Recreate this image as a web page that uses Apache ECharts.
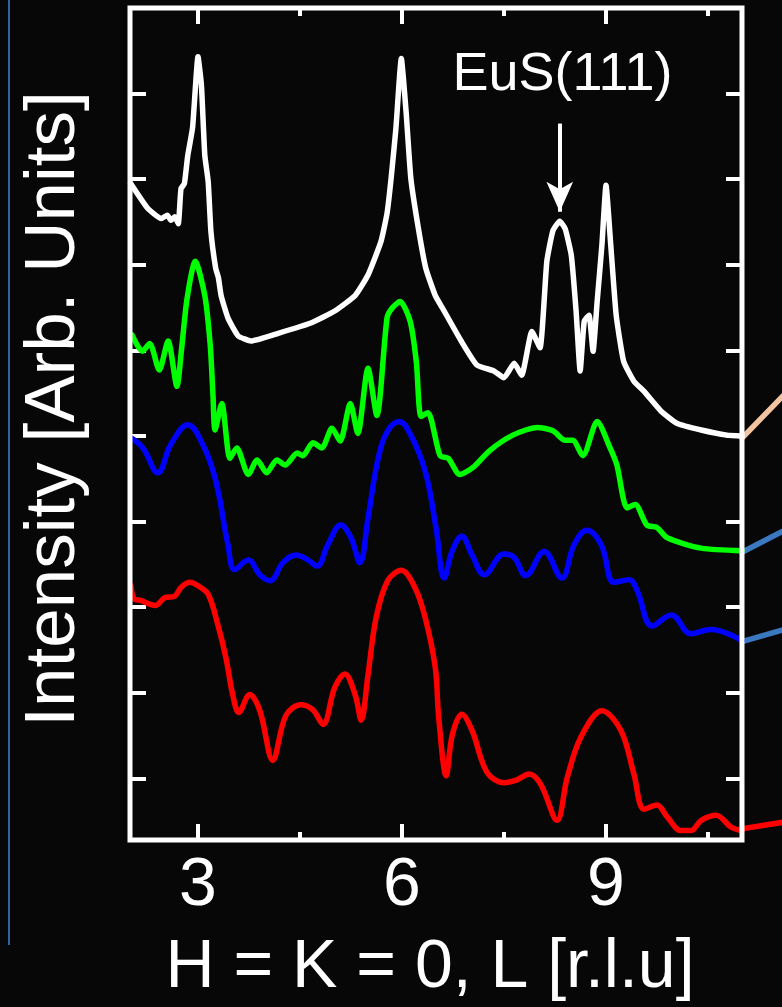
<!DOCTYPE html>
<html>
<head>
<meta charset="utf-8">
<script src="https://cdn.jsdelivr.net/npm/echarts@6/dist/echarts.min.js"></script>
<style>
  html, body { margin: 0; padding: 0; background: #070707; }
  #chart { width: 782px; height: 1007px; }
</style>
</head>
<body>
<div id="chart"></div>
<script>
// L values (r.l.u) paired with intensity (arb. units, offset traces)
const white = [[2.01,7.95],[2.26,7.66],[2.46,7.54],[2.55,7.58],[2.60,7.52],[2.66,7.56],[2.71,7.48],[2.75,7.89],[2.80,7.95],[2.85,8.28],[2.92,8.6],[3.0,9.43],[3.05,9.1],[3.10,8.28],[3.15,7.97],[3.19,7.39],[3.26,6.96],[3.30,6.85],[3.34,6.64],[3.44,6.38],[3.59,6.17],[3.78,6.11],[4.18,6.20],[4.66,6.32],[5.01,6.46],[5.31,6.64],[5.50,6.88],[5.69,7.27],[5.78,7.6],[5.84,8.01],[5.91,8.59],[5.99,9.41],[6.06,8.79],[6.13,8.01],[6.24,7.43],[6.35,6.96],[6.49,6.64],[6.62,6.46],[6.87,6.11],[7.10,5.83],[7.35,5.76],[7.50,5.68],[7.65,5.85],[7.76,5.71],[7.91,6.22],[8.03,6.03],[8.13,7.04],[8.22,7.4],[8.32,7.51],[8.40,7.42],[8.49,7.11],[8.56,6.46],[8.62,5.76],[8.68,6.34],[8.75,6.41],[8.81,5.99],[8.87,6.57],[8.94,7.23],[9.0,7.93],[9.07,7.23],[9.15,6.41],[9.26,5.87],[9.41,5.64],[9.56,5.52],[9.81,5.29],[10.04,5.15],[10.40,5.07],[10.78,5.01],[11.0,5.0]];
const green = [[2.03,6.18],[2.18,5.99],[2.29,6.08],[2.43,5.77],[2.56,6.11],[2.69,5.58],[2.76,6.03],[2.84,6.61],[2.96,7.04],[3.10,6.64],[3.18,6.06],[3.22,5.48],[3.25,5.07],[3.35,5.38],[3.47,4.74],[3.57,4.86],[3.74,4.55],[3.87,4.72],[4.01,4.57],[4.16,4.72],[4.28,4.66],[4.46,4.80],[4.54,4.77],[4.69,4.92],[4.82,4.86],[4.97,5.09],[5.09,4.94],[5.24,5.38],[5.35,5.03],[5.50,5.79],[5.63,5.24],[5.78,6.38],[5.85,6.49],[5.97,6.57],[6.12,6.34],[6.21,5.87],[6.28,5.23],[6.38,5.27],[6.56,4.77],[6.68,4.74],[6.85,4.55],[7.04,4.63],[7.29,4.83],[7.63,5.01],[7.99,5.10],[8.22,5.06],[8.40,4.95],[8.51,4.95],[8.66,4.77],[8.87,5.17],[9.06,4.86],[9.16,4.66],[9.31,4.16],[9.43,4.20],[9.60,3.96],[9.75,3.93],[9.90,3.81],[10.40,3.69],[11.0,3.66]];
const blue = [[2.01,4.98],[2.19,4.86],[2.41,4.57],[2.60,4.90],[2.85,5.13],[3.07,4.90],[3.26,4.48],[3.44,3.73],[3.54,3.44],[3.74,3.55],[3.91,3.38],[4.06,3.31],[4.25,3.52],[4.44,3.61],[4.62,3.55],[4.75,3.48],[4.91,3.73],[5.10,3.96],[5.25,3.81],[5.38,3.52],[5.50,4.04],[5.65,4.74],[5.79,5.06],[5.96,5.17],[6.13,5.01],[6.34,4.59],[6.50,3.93],[6.62,3.34],[6.74,3.66],[6.88,3.83],[7.03,3.61],[7.21,3.38],[7.50,3.62],[7.65,3.58],[7.82,3.37],[8.09,3.65],[8.35,3.34],[8.53,3.73],[8.72,3.90],[8.93,3.73],[9.12,3.29],[9.34,3.32],[9.46,3.19],[9.68,2.78],[9.96,2.91],[10.25,2.69],[10.54,2.74],[11.0,2.61]];
const red = [[2.01,3.26],[2.07,3.09],[2.16,3.08],[2.24,3.05],[2.37,3.02],[2.51,3.11],[2.66,3.13],[2.75,3.23],[2.88,3.29],[3.00,3.25],[3.15,3.15],[3.29,2.80],[3.41,2.41],[3.51,1.98],[3.60,1.77],[3.76,1.98],[3.91,1.79],[4.10,1.21],[4.29,1.73],[4.51,1.86],[4.69,1.80],[4.84,1.63],[5.01,2.06],[5.16,2.22],[5.31,1.98],[5.40,1.68],[5.50,2.21],[5.62,2.88],[5.79,3.31],[5.99,3.43],[6.19,3.23],[6.34,2.88],[6.49,2.29],[6.54,1.71],[6.65,1.03],[6.74,1.51],[6.88,1.75],[7.03,1.56],[7.25,1.07],[7.50,0.95],[7.68,0.98],[7.87,1.05],[8.04,0.93],[8.28,0.51],[8.43,1.01],[8.63,1.48],[8.94,1.79],[9.22,1.56],[9.41,1.05],[9.56,0.64],[9.75,0.69],[9.90,0.55],[10.10,0.39],[10.25,0.39],[10.40,0.51],[10.62,0.57],[10.84,0.43],[11.0,0.39]];
// connector lines leaving the right edge of the frame
const linkPeach = [[11.0,4.99],[11.71,5.57]];
const linkBlue1 = [[11.0,3.66],[11.71,3.95]];
const linkBlue2 = [[11.0,2.62],[11.71,2.78]];
const linkRed = [[10.93,0.43],[11.71,0.53]];
// tick values
const xMajor = [3, 6, 9];
const xMinor = [4.5, 7.5, 10.5];
const yTicks = [1, 2, 3, 4, 5, 6, 7, 8, 9];
const eusPeak = [8.32, 8.65, 7.62];   // L, arrow start, arrow end
const eusLabel = [8.36, 9.22];

const FONT = 'Liberation Sans, Arial, Helvetica, sans-serif';
const tickStyle = { color: '#ffffff', width: 4 };

function xAxisCfg(pos, vals, len, withLabels) {
  const a = {
    type: 'value', min: 2, max: 11, position: pos, gridIndex: 0,
    axisLine: { show: false },
    splitLine: { show: false },
    axisTick: { show: true, inside: true, length: len, customValues: vals, lineStyle: tickStyle },
    axisLabel: { show: false }
  };
  if (withLabels) {
    a.axisLabel = { show: true, customValues: vals, color: '#ffffff', fontSize: 68, fontFamily: FONT, margin: 12 };
    a.name = 'H = K = 0, L [r.l.u]';
    a.nameLocation = 'middle';
    a.nameGap = 94;
    a.nameTextStyle = { color: '#ffffff', fontSize: 68, fontFamily: FONT, padding: [0, 12, 0, 0] };
  }
  return a;
}
function yAxisCfg(pos, withName) {
  const a = {
    type: 'value', min: 0.28, max: 10, position: pos, gridIndex: 0,
    axisLine: { show: false },
    splitLine: { show: false },
    axisTick: { show: true, inside: true, length: 16, customValues: yTicks, lineStyle: tickStyle },
    axisLabel: { show: false }
  };
  if (withName) {
    a.name = 'Intensity [Arb. Units]';
    a.nameLocation = 'middle';
    a.nameGap = 40;
    a.nameTextStyle = { color: '#ffffff', fontSize: 71, fontFamily: FONT, padding: [0, 0, 0, 30] };
  }
  return a;
}
function lineSeries(data, color, extra) {
  return Object.assign({
    type: 'line', data: data, showSymbol: false, symbol: 'none', smooth: false,
    lineStyle: { color: color, width: 5.5, cap: 'round', join: 'round' },
    silent: true, animation: false, z: 3
  }, extra || {});
}

const chart = echarts.init(document.getElementById('chart'), null, { renderer: 'canvas' });
chart.setOption({
  backgroundColor: '#070707',
  animation: false,
  grid: [
    { left: 130, right: 40, top: 8, bottom: 164.5, show: true, borderColor: '#ffffff', borderWidth: 5, backgroundColor: 'transparent', z: 5 },
    { left: 742, right: 0, top: 8, bottom: 164.5, show: false }
  ],
  graphic: [{ type: 'line', shape: { x1: 9, y1: 0, x2: 9, y2: 945 }, style: { stroke: '#2f62a3', lineWidth: 2 }, z: 0 }],
  xAxis: [
    xAxisCfg('bottom', xMajor, 16, true),
    xAxisCfg('bottom', xMinor, 8, false),
    xAxisCfg('top', xMajor, 16, false),
    xAxisCfg('top', xMinor, 8, false),
    { type: 'value', gridIndex: 1, min: 11, max: 11.588, show: false }
  ],
  yAxis: [
    yAxisCfg('left', true),
    yAxisCfg('right', false),
    { type: 'value', gridIndex: 1, min: 0.28, max: 10, show: false }
  ],
  series: [
    lineSeries(red, '#ff0000', { smooth: 0.35 }),
    lineSeries(blue, '#0000ff', { smooth: 0.4 }),
    lineSeries(green, '#00ff00', { smooth: 0.25 }),
    lineSeries(white, '#ffffff', {
      z: 4, smooth: 0.15,
      markLine: {
        silent: true, animation: false,
        symbol: ['none', 'arrow'], symbolSize: [20, 30],
        lineStyle: { color: '#ffffff', width: 4, type: 'solid' },
        label: { show: false },
        data: [[{ coord: [eusPeak[0], eusPeak[1]] }, { coord: [eusPeak[0], eusPeak[2]] }]]
      },
      markPoint: {
        silent: true, animation: false,
        symbol: 'circle', symbolSize: 0,
        label: { show: true, position: 'inside', formatter: 'EuS(111)', color: '#ffffff', fontSize: 54, fontFamily: FONT },
        data: [{ coord: eusLabel }]
      }
    }),
    lineSeries(linkPeach, '#f2c4a0', { xAxisIndex: 4, yAxisIndex: 2, z: 2 }),
    lineSeries(linkBlue1, '#3a78c0', { xAxisIndex: 4, yAxisIndex: 2, z: 2 }),
    lineSeries(linkBlue2, '#3a78c0', { xAxisIndex: 4, yAxisIndex: 2, z: 2 }),
    lineSeries(linkRed, '#ff0000', { xAxisIndex: 4, yAxisIndex: 2, z: 2 })
  ]
});
</script>
</body>
</html>
